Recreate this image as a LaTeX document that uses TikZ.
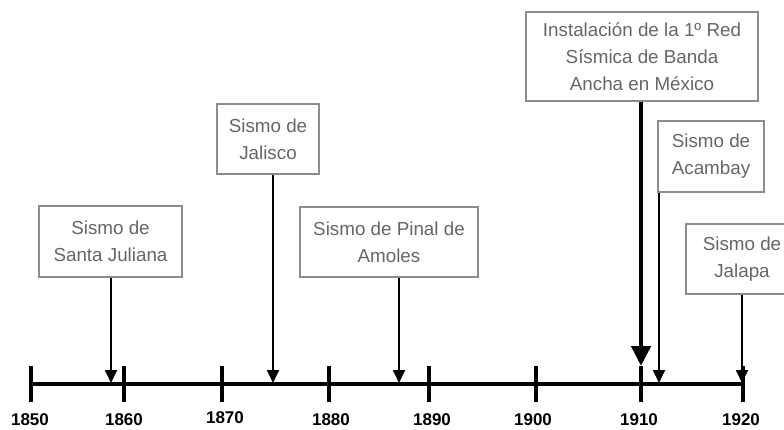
\documentclass[tikz,border=0pt]{standalone}
\usepackage{fontspec}
\setmainfont{Liberation Sans}
\usepackage{tikz}
\usetikzlibrary{positioning, calc, arrows.meta}
\definecolor{boxgray}{HTML}{8C8C8C}
\definecolor{textgray}{HTML}{666666}

\begin{document}
\begin{tikzpicture}[x=1pt, y=-1pt,
                        eventnode/.style={rectangle, draw=boxgray, line width=1.4pt, fill=white, text=textgray, align=center, font=\fontsize{18.8}{27}\selectfont, inner sep=0pt},
                        evarrow/.style={-{Triangle[width=12pt, length=13pt]}, line width=1.8pt},
                        bigarrow/.style={-{Triangle[width=19pt, length=20pt]}, line width=4.5pt},
                        yearlabel/.style={font=\fontsize{17}{17}\selectfont\bfseries},
                        ]
        \useasboundingbox (0,0) rectangle (784,430);

        %Axis
        \coordinate (axisL) at (31,384);
        \coordinate (axisR) at (743,384);
        \draw[line width=3.5pt] (axisL) -- (axisR);
        \foreach \x/\yr/\lx/\ly in {31/1850/30/420, 124/1860/124/420, 222/1870/225/418, 329/1880/331/420, 429/1890/432/420, 536/1900/533/420, 641/1910/639/420, 743/1920/741/420}{
            \draw[line width=3.5pt] (\x,366) -- (\x,402);
            \node[yearlabel] (y\yr) at (\lx,\ly) {\yr};
        }

        %Events
        \node[eventnode, minimum width=143, minimum height=71] (juliana)     at (110.5,241.5) {Sismo de\\Santa Juliana};
        \node[eventnode, minimum width=102, minimum height=70] (jalisco)     at (268,139)     {Sismo de\\Jalisco};
        \node[eventnode, minimum width=178, minimum height=70] (pinal)       at (389,242)     {Sismo de Pinal de\\Amoles};
        \node[eventnode, minimum width=232, minimum height=89] (instalacion) at (642,56.5)    {Instalación de la 1º Red\\Sísmica de Banda\\Ancha en México};
        \node[eventnode, minimum width=106, minimum height=71] (acambay)     at (711,156.5)   {Sismo de\\Acambay};
        \node[eventnode, minimum width=112, minimum height=70] (jalapa)      at (742,259)     {Sismo de\\Jalapa};

        %Arrows
        \coordinate (tJuliana) at (111,383);
        \coordinate (tJalisco) at (273,383);
        \coordinate (tPinal)   at (399,383);
        \coordinate (tRed)     at (641,366);
        \coordinate (tAcambay) at (659,383);
        \coordinate (tJalapa)  at (742,383);

        \draw[evarrow]  (juliana.south -| tJuliana)   -- (tJuliana);
        \draw[evarrow]  (jalisco.south -| tJalisco)   -- (tJalisco);
        \draw[evarrow]  (pinal.south -| tPinal)       -- (tPinal);
        \draw[bigarrow] (instalacion.south -| tRed)   -- (tRed);
        \draw[evarrow]  (acambay.south -| tAcambay)   -- (tAcambay);
        \draw[evarrow]  (jalapa.south -| tJalapa)     -- (tJalapa);
    \end{tikzpicture}
\end{document}
